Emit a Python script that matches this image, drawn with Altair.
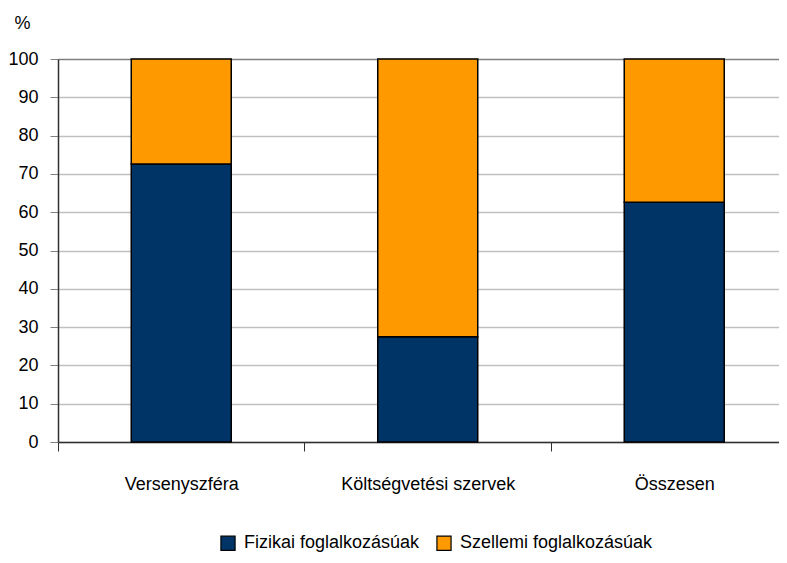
import json
import altair as alt
import pandas as pd

categories = ["Versenyszféra", "Költségvetési szervek", "Összesen"]
series = ["Fizikai foglalkozásúak", "Szellemi foglalkozásúak"]
fizikai = [72.6, 27.5, 62.6]
szellemi = [27.4, 72.5, 37.4]
colors = ["#003366", "#FF9900"]
y_ticks = [0, 10, 20, 30, 40, 50, 60, 70, 80, 90, 100]

rows = []
for i, cat in enumerate(categories):
    rows.append({"cat": cat, "idx": i, "series": series[0], "order": 0, "value": fizikai[i]})
    rows.append({"cat": cat, "idx": i, "series": series[1], "order": 1, "value": szellemi[i]})
df = pd.DataFrame(rows)

FONT = "Liberation Sans"
FS = 18

label_expr = " : ".join(
    [f"datum.value === {i} ? {json.dumps(c)}" for i, c in enumerate(categories)]
) + " : ''"

x_values = []
for i in range(len(categories)):
    x_values += [i - 0.5, i]

chart = alt.Chart(df).mark_bar(size=100, stroke="black", strokeWidth=1.5).encode(
    x=alt.X(
        "idx:Q",
        scale=alt.Scale(domain=[-0.5, 2.425], nice=False, zero=False, padding=0),
        axis=alt.Axis(
            title=None,
            values=x_values,
            labelExpr=label_expr,
            grid=False,
            domainColor="#303030",
            domainWidth=1.5,
            tickColor="#303030",
            tickSize=9,
            tickOpacity={"condition": {"test": "datum.value % 1 !== 0", "value": 1}, "value": 0},
            labelPadding=24,
            labelFont=FONT,
            labelFontSize=FS,
            labelColor="#000000",
            labelOverlap=False,
            labelFlush=False,
            labelLimit=0,
        ),
    ),
    y=alt.Y(
        "value:Q",
        stack="zero",
        scale=alt.Scale(domain=[0, 100], nice=False, padding=0),
        axis=alt.Axis(
            title="%",
            titleAngle=0,
            titleX=-36,
            titleY=-31,
            titleAlign="center",
            titleBaseline="alphabetic",
            titleFont=FONT,
            titleFontSize=FS,
            titleFontWeight="normal",
            titleColor="#000000",
            values=y_ticks,
            grid=True,
            gridColor={"condition": {"test": "datum.value === 100", "value": "#808080"}, "value": "#C0C0C0"},
            gridWidth=1.5,
            domainColor="#303030",
            domainWidth=1.5,
            tickColor="#808080",
            tickSize=8,
            labelPadding=12,
            labelFont=FONT,
            labelFontSize=FS,
            labelColor="#000000",
        ),
    ),
    color=alt.Color(
        "series:N",
        scale=alt.Scale(domain=series, range=colors),
        legend=alt.Legend(
            title=None,
            orient="none",
            direction="horizontal",
            legendX=161,
            legendY=475,
            symbolType="square",
            symbolSize=200,
            symbolStrokeColor="black",
            symbolStrokeWidth=1.2,
            symbolOpacity=1,
            labelFont=FONT,
            labelFontSize=FS,
            labelColor="#000000",
            labelLimit=0,
            columnPadding=14,
            labelOffset=7,
            padding=0,
        ),
    ),
    order=alt.Order("order:Q"),
).properties(
    width=721,
    height=383,
    autosize=alt.AutoSizeParams(type="none"),
    padding={"left": 50, "top": 51, "right": 0, "bottom": 111},
).configure_view(stroke=None).configure(background="white")

chart.save("out.html", embed_options={"renderer": "svg", "actions": False})
